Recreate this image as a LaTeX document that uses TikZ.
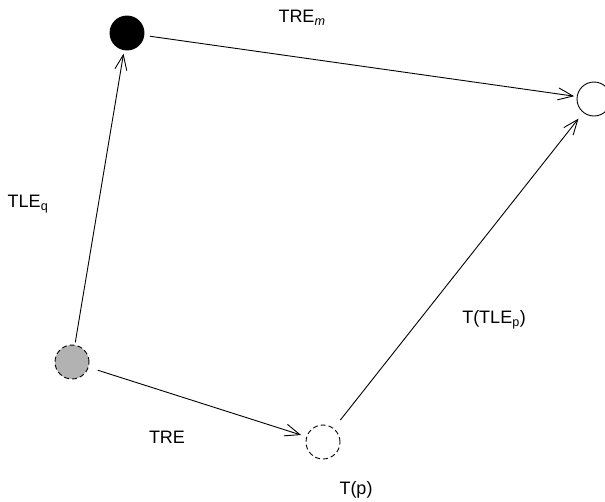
\documentclass[tikz,border=0pt]{standalone}
\usepackage{fontspec}
\setmainfont{Liberation Sans}
\usetikzlibrary{arrows.meta}
\definecolor{nodegray}{RGB}{178,178,178}
\begin{document}
\begin{tikzpicture}[x=1pt,y=-1pt,
  state/.style={circle,draw,line width=0.9pt,minimum size=34pt,inner sep=0pt,outer sep=0pt},
  dashedstate/.style={state,dash pattern=on 5pt off 3pt},
  lbl/.style={font=\fontsize{18}{21}\selectfont,inner sep=0pt},
  conn/.style={draw,line width=0.9pt,-{Straight Barb[length=15pt,width=12pt,line width=0.9pt]}}]
\useasboundingbox (0,0) rectangle (605,501);
\node[state,fill=black] (B) at (127,33) {};
\node[state] (R) at (594,99) {};
\node[dashedstate,fill=nodegray] (G) at (72,362) {};
\node[dashedstate] (D) at (323,442) {};

\node[lbl] (lm) at (302,18) {TRE\textsubscript{\itshape m}};
\node[lbl] (lq) at (28,204) {TLE\textsubscript{q}};
\node[lbl] (lp) at (494,320) {T(TLE\textsubscript{p})};
\node[lbl] (lt) at (167,437) {TRE};
\node[lbl] (lpp) at (356,490) {T(p)};

\draw[conn,shorten <=6pt,shorten >=3pt] (B) -- (R);
\draw[conn,shorten <=3pt,shorten >=4pt] (G) -- (B);
\draw[conn,shorten <=10pt,shorten >=6pt] (G) -- (D);
\draw[conn,shorten <=11pt,shorten >=8pt] (D) -- (R);
\end{tikzpicture}
\end{document}
